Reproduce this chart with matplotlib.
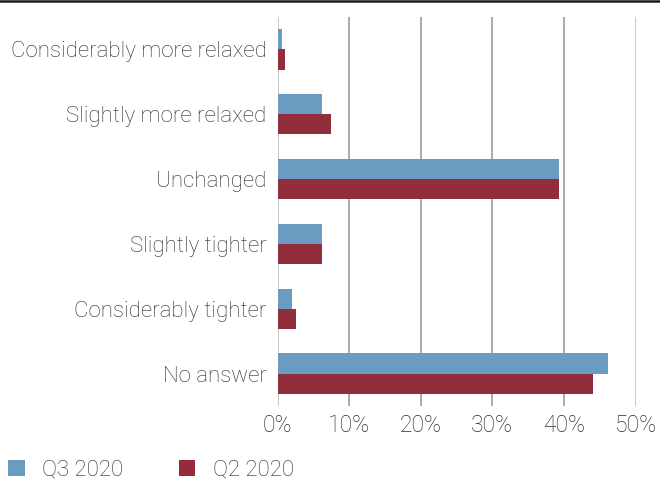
import matplotlib
matplotlib.use("Agg")
import matplotlib.pyplot as plt
import numpy as np
from matplotlib.lines import Line2D

plt.rcParams['font.family'] = ['Roboto', 'DejaVu Sans']

categories = ["Considerably more relaxed", "Slightly more relaxed", "Unchanged",
              "Slightly tighter", "Considerably tighter", "No answer"]
q3_2020 = [0.6, 6.2, 39.3, 6.2, 2.0, 46.2]
q2_2020 = [1.0, 7.5, 39.3, 6.2, 2.6, 44.1]
series_names = ["Q3 2020", "Q2 2020"]
xticks = [0, 10, 20, 30, 40, 50]
xtick_labels = ["0%", "10%", "20%", "30%", "40%", "50%"]

blue = "#6A9BC0"
red = "#922D3C"
txt = "#2a2a2a"
fs = 16
fw = 'light'

fig = plt.figure(figsize=(6.6, 4.79), dpi=100)
ax = fig.add_axes([277.5/660, 1-406/479, (635.5-277.5)/660, (406-17)/479])

n = len(categories)
y = np.arange(n)
h = 0.31
ax.barh(y - h/2, q3_2020, height=h, color=blue, label=series_names[0], zorder=3)
ax.barh(y + h/2, q2_2020, height=h, color=red, label=series_names[1], zorder=3)
ax.set_ylim(n - 0.5, -0.5)
ax.set_xlim(0, 50)

for xv in xticks:
    ax.axvline(xv, color="#aaaaaa" if 0 < xv < 50 else "#c8c8c8", lw=1.4, zorder=1)

ax.set_xticks(xticks)
ax.set_xticklabels(xtick_labels, fontsize=16.5, color=txt, fontweight=fw)
ax.set_yticks(y)
ax.set_yticklabels(categories, fontsize=fs, color=txt, fontweight=fw)
ax.tick_params(axis='both', length=0)
ax.tick_params(axis='x', pad=6)
ax.tick_params(axis='y', pad=8)
for s in ax.spines.values():
    s.set_visible(False)

fig.add_artist(Line2D([0, 1], [1-1/479, 1-1/479], color="#1a1a1a", lw=1.8, transform=fig.transFigure))

leg = fig.legend(loc="center left", bbox_to_anchor=(8/660, 1-470/479), ncol=2, frameon=False,
                 fontsize=fs, handlelength=0.75, handleheight=0.75, handletextpad=0.8,
                 columnspacing=2.47, borderaxespad=0.0, borderpad=0.0)
for t in leg.get_texts():
    t.set_color(txt)
    t.set_fontweight(fw)

fig.savefig("out.png", dpi=100)
